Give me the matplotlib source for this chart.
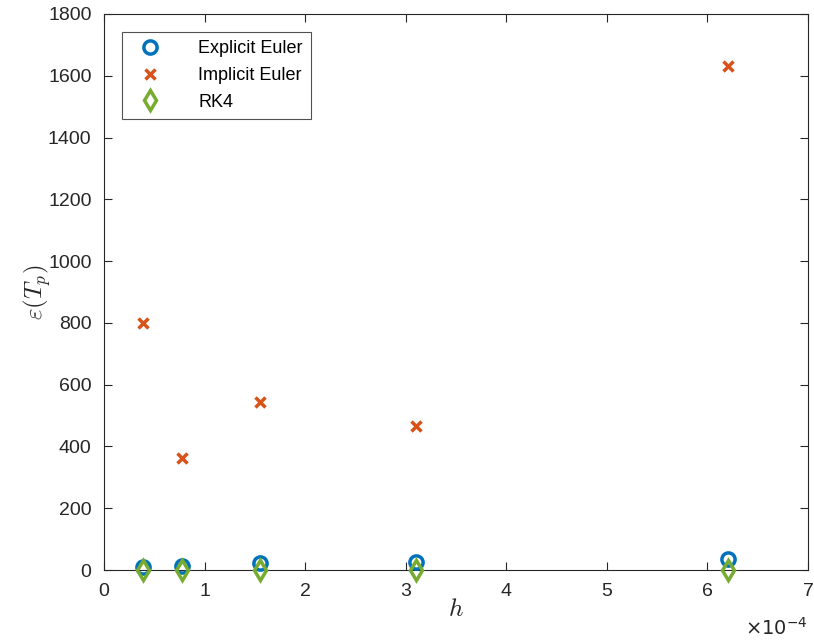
import matplotlib
matplotlib.use("Agg")
import matplotlib.pyplot as plt

plt.rcParams['font.family'] = ['Liberation Sans', 'DejaVu Sans']
plt.rcParams['mathtext.fontset'] = 'cm'

# step sizes (scaled by 1e-4) and error at the final time
h = [0.3875, 0.775, 1.55, 3.1, 6.2]
err_explicit = [10, 13, 22, 27, 36]
err_implicit = [798, 363, 545, 467, 1631]
err_rk4 = [0, 0, 0, 0, 0]

xticks = [0, 1, 2, 3, 4, 5, 6, 7]
yticks = [0, 200, 400, 600, 800, 1000, 1200, 1400, 1600, 1800]

fig = plt.figure(figsize=(8.14, 6.44), dpi=100)
ax = fig.add_axes([0.1278, 0.1149, 0.8648, 0.8634])

ax.plot(h, err_explicit, linestyle='none', marker='o', markersize=9.5,
        markerfacecolor='none', markeredgecolor='#0072BD', markeredgewidth=2.5,
        label='Explicit Euler', clip_on=False, zorder=3)
ax.plot(h, err_implicit, linestyle='none', marker='x', markersize=7,
        color='#D95319', markeredgewidth=2.5, label='Implicit Euler',
        clip_on=False, zorder=3)
ax.plot(h, err_rk4, linestyle='none', marker='d', markersize=10.5,
        markerfacecolor='none', markeredgecolor='#77AC30', markeredgewidth=2.5,
        label='RK4', clip_on=False, zorder=4)

ax.set_xlim(0, 7)
ax.set_ylim(0, 1800)
ax.set_xticks(xticks)
ax.set_yticks(yticks)
ax.set_xticklabels([str(t) for t in xticks])
ax.set_yticklabels([str(t) for t in yticks])

ax.tick_params(direction='in', top=True, right=True, length=6, width=0.8,
               labelsize=14, colors='#262626')
ax.tick_params(axis='x', pad=9)
ax.tick_params(axis='y', pad=9)
for s in ax.spines.values():
    s.set_color('#262626')
    s.set_linewidth(0.8)

ax.set_xlabel('$h$', fontsize=18, color='#262626', labelpad=-2)
ax.set_ylabel(r'$\varepsilon(T_p)$', fontsize=18, color='#262626', labelpad=-4)

ax.text(1.0, -0.085, r'$\times10^{-4}$', transform=ax.transAxes,
        ha='right', va='top', fontsize=14, color='#262626',
        family='Liberation Sans', math_fontfamily='dejavusans')

leg = ax.legend(loc='upper left', bbox_to_anchor=(0.025, 0.968), fontsize=13,
                frameon=True, fancybox=False, edgecolor='#262626',
                borderpad=0.45, handletextpad=1.6, labelspacing=0.55,
                handlelength=2.2, borderaxespad=0)
leg.get_frame().set_linewidth(0.8)

fig.savefig('out.png', dpi=100)
